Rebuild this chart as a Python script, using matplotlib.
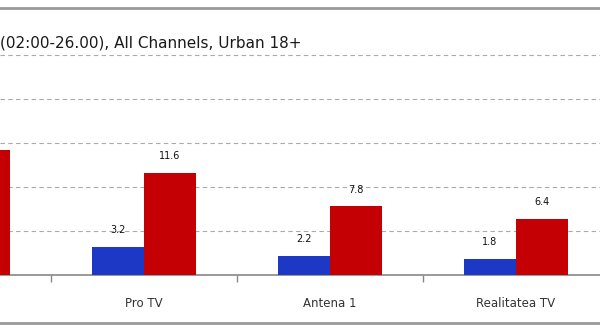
import matplotlib.pyplot as plt
from matplotlib.lines import Line2D
import numpy as np

# first channel is cut off in the reference, its name / blue value are guesses
channels = ['Kanal D', 'Pro TV', 'Antena 1', 'Realitatea TV']
rating = [4.0, 3.2, 2.2, 1.8]
share = [14.2, 11.6, 7.8, 6.4]
title = '(02:00-26.00), All Channels, Urban 18+'

W, H = 600, 334
fig = plt.figure(figsize=(W / 100, H / 100), dpi=100)
fig.patch.set_facecolor('white')

# axes placed in pixels; the chart is cropped on both sides
ax = fig.add_axes([0, 59 / H, 1, 264 / H])
x = np.arange(len(channels))
bw = 0.28
ax.bar(x - bw / 2, rating, bw, color='#1c38c4', zorder=3)
ax.bar(x + bw / 2, share, bw, color='#c40004', zorder=3)

for xi, v in zip(x, rating):
    ax.annotate(f'{v:.1f}', (xi - bw / 2, v), xytext=(0, 8.5), textcoords='offset points',
                ha='center', va='bottom', fontsize=7, color='#111')
for xi, v in zip(x, share):
    ax.annotate(f'{v:.1f}', (xi + bw / 2, v), xytext=(0, 8.5), textcoords='offset points',
                ha='center', va='bottom', fontsize=7, color='#111')

ax.set_xticks(x, channels, fontsize=8.5, color='#333')
ax.tick_params(axis='x', which='major', length=0, pad=16)
ax.set_xticks(x[:-1] + 0.5, minor=True)
ax.tick_params(axis='x', which='minor', length=5, color='#888', width=1)

ax.set_yticks([5, 10, 15, 20, 25])
ax.tick_params(axis='y', length=0, labelleft=False)
ax.yaxis.grid(True, color='#aaaaaa', lw=0.8, dashes=(4, 3))
ax.set_axisbelow(True)

# limits after the ticks, so set_xticks does not widen them
ax.set_xlim(1 - 144 / 186, 1 + 456 / 186)
ax.set_ylim(0, 30)

for s in ['top', 'left', 'right']:
    ax.spines[s].set_visible(False)
ax.spines['bottom'].set_color('#888888')
ax.spines['bottom'].set_linewidth(1.2)

fig.text(0, 1 - 43 / H, title, fontsize=11, color='#1a1a1a', va='center', ha='left')

# frame lines of the original chart
for yp in [8, 323]:
    fig.add_artist(Line2D([0, 1], [1 - yp / H] * 2, color='#999999', lw=2,
                          transform=fig.transFigure))

fig.savefig('out.png', dpi=100)
